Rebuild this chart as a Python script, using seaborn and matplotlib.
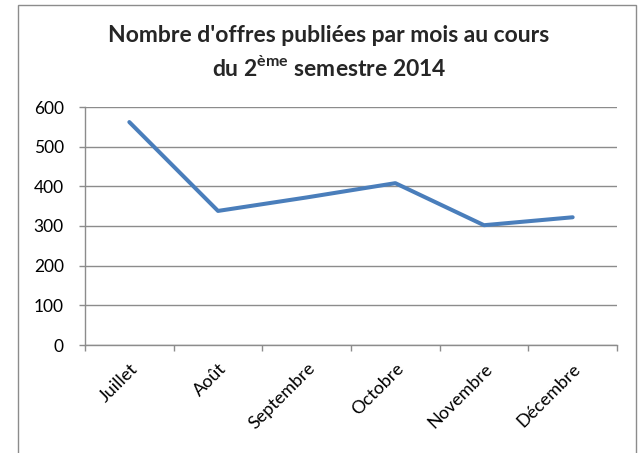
import numpy as np
import pandas as pd
import matplotlib
matplotlib.use('Agg')
import matplotlib.pyplot as plt
import seaborn as sns
from matplotlib.patches import Rectangle

# data
mois = ['Juillet', 'Août', 'Septembre', 'Octobre', 'Novembre', 'Décembre']
offres = [562, 338, 372, 408, 302, 322]
y_ticks = [0, 100, 200, 300, 400, 500, 600]

sns.set_theme(style='white')
plt.rcParams['font.family'] = ['Lato', 'DejaVu Sans']
plt.rcParams['mathtext.fontset'] = 'custom'
plt.rcParams['mathtext.rm'] = 'Lato'
plt.rcParams['mathtext.bf'] = 'Lato:bold'

df = pd.DataFrame({'mois': mois, 'offres': offres})

fig = plt.figure(figsize=(6.4, 4.53), dpi=100)
ax = fig.add_axes([85 / 640, 1 - 345 / 453, 532 / 640, 238 / 453])

sns.lineplot(data=df, x='mois', y='offres', sort=False, ax=ax,
             color='#4A7EBB', linewidth=2.9, solid_capstyle='round')

ax.set_xlim(-0.5, len(mois) - 0.5)
ax.set_ylim(0, 600)
ax.set_yticks(y_ticks)
ax.yaxis.grid(True, color='#8C8C8C', linewidth=1.0)
ax.set_axisbelow(True)
ax.set_xlabel('')
ax.set_ylabel('')

for s in ['top', 'right']:
    ax.spines[s].set_visible(False)
for s in ['left', 'bottom']:
    ax.spines[s].set_color('#8C8C8C')
    ax.spines[s].set_linewidth(1.0)

ax.set_xticks(range(len(mois)))
ax.set_xticklabels(mois, rotation=45, ha='right', rotation_mode='anchor', fontsize=13, color='black')
ax.set_xticks(np.arange(-0.5, len(mois), 1.0), minor=True)
ax.tick_params(axis='x', which='major', length=0, pad=11)
ax.tick_params(axis='x', which='minor', length=4.3, width=1, color='#8C8C8C', direction='out', bottom=True)
ax.tick_params(axis='y', length=4.3, width=1, color='#8C8C8C', direction='out', left=True,
               labelsize=12.5, labelcolor='black', pad=11)

fig.text(329 / 640, 1 - 36 / 453, "Nombre d'offres publiées par mois au cours",
         ha='center', va='center', fontsize=16.5, fontweight='bold')
fig.text(329 / 640, 1 - 67 / 453, r"du 2$^{\mathbf{ème}}$ semestre 2014",
         ha='center', va='center', fontsize=16.5, fontweight='bold')

# chart area frame
fig.patches.append(Rectangle((17.5 / 640, -0.1), (636 - 17.5) / 640, 1.1 - 5 / 453,
                             transform=fig.transFigure, fill=False,
                             edgecolor='#8C8C8C', linewidth=1.0))

fig.savefig('out.png', dpi=100)
